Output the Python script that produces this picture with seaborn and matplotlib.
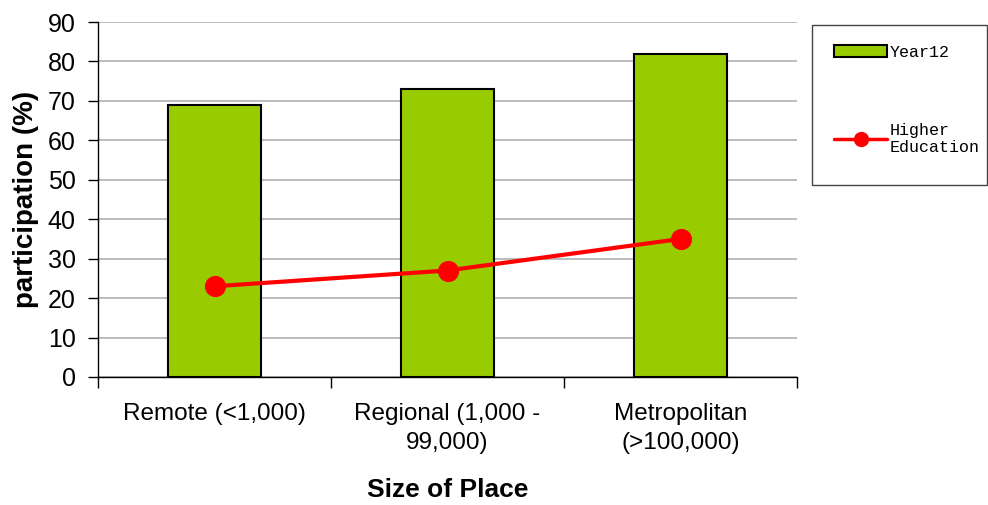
import matplotlib
matplotlib.use("Agg")
import matplotlib.pyplot as plt
from matplotlib.patches import Rectangle, Patch
from matplotlib.lines import Line2D
import seaborn as sns
import pandas as pd

categories = ["Remote (<1,000)", "Regional (1,000 -\n99,000)", "Metropolitan\n(>100,000)"]
year12 = [69, 73, 82]
higher_ed = [23, 27, 35]
yticks = list(range(0, 91, 10))

df = pd.DataFrame({"place": categories, "year12": year12, "higher": higher_ed})

sns.set_style("white")
plt.rcParams["font.family"] = ["Liberation Sans", "DejaVu Sans"]
plt.rcParams["text.color"] = "black"
plt.rcParams["axes.labelcolor"] = "black"
plt.rcParams["xtick.color"] = "black"
plt.rcParams["ytick.color"] = "black"

fig = plt.figure(figsize=(9.88, 5.05), dpi=100)
ax = fig.add_axes([98 / 988, 1 - 377 / 505, 699 / 988, 355 / 505])

bar_green = "#99cc00"
sns.barplot(data=df, x="place", y="year12", color=bar_green, width=0.40,
            edgecolor="black", linewidth=1.5, saturation=1, ax=ax, zorder=2)
sns.pointplot(data=df, x="place", y="higher", color="#ff0000", markers="o",
              markersize=13, linewidth=3, ax=ax, zorder=3)

ax.set_ylim(0, 90)
ax.set_xlim(-0.5, 2.5)
ax.set_yticks(yticks)
ax.yaxis.grid(True, color="#b0b0b0", linewidth=1.2, zorder=0)
ax.set_axisbelow(True)

for side in ["top", "right"]:
    ax.spines[side].set_visible(False)
for side in ["left", "bottom"]:
    ax.spines[side].set_color("black")
    ax.spines[side].set_linewidth(1.0)

ax.tick_params(axis="y", which="major", left=True, length=7, width=1, color="black",
               labelsize=18, pad=9)
ax.set_xticks([0, 1, 2])
ax.set_xticklabels(categories, fontsize=17.5, linespacing=1.45)
ax.tick_params(axis="x", which="major", bottom=False, pad=15)
ax.set_xticks([-0.5, 0.5, 1.5, 2.5], minor=True)
ax.tick_params(axis="x", which="minor", bottom=True, length=8, width=1, color="black")

ax.set_ylabel("participation (%)", fontsize=20, fontweight="bold", labelpad=6)
ax.set_xlabel("Size of Place", fontsize=19, fontweight="bold", labelpad=17)

# legend box
fig.add_artist(Rectangle((812 / 988, 1 - 185 / 505), 175 / 988, 160 / 505,
                         transform=fig.transFigure, fill=False,
                         edgecolor="#444444", linewidth=1.0))
handles = [
    Patch(facecolor=bar_green, edgecolor="black", linewidth=1.5),
    Line2D([0], [0], color="#ff0000", linewidth=2.5, marker="o", markersize=10),
]
fig.legend(handles, ["Year12", "Higher\nEducation"], loc="upper left",
           bbox_to_anchor=(834 / 988, 1 - 45 / 505), frameon=False,
           prop={"family": ["Liberation Mono", "DejaVu Sans Mono"], "size": 12},
           labelspacing=3.75, handlelength=3.2, handletextpad=0.15,
           borderaxespad=0, borderpad=0)

fig.savefig("out.png", dpi=100)
